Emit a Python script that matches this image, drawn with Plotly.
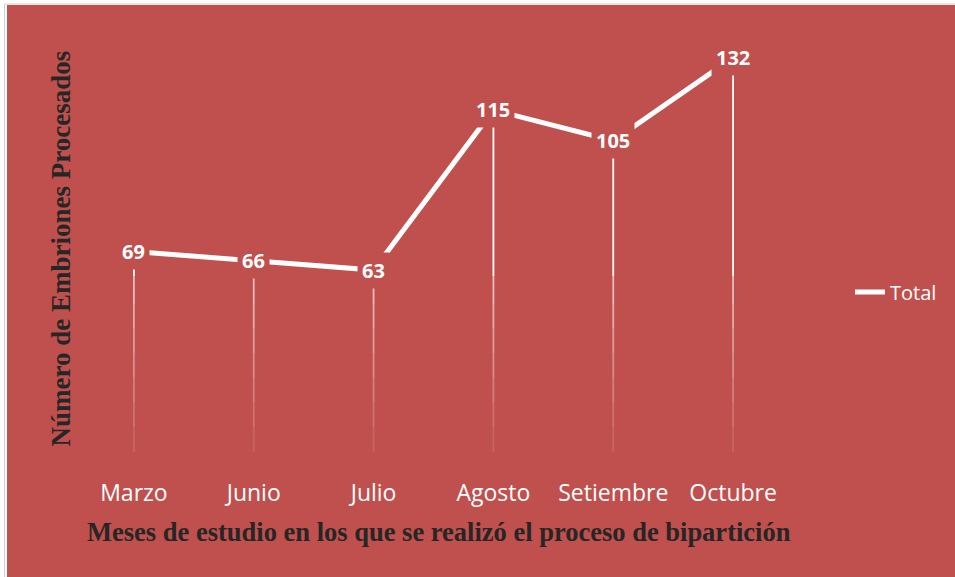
import plotly.graph_objects as go

months = ["Marzo", "Junio", "Julio", "Agosto", "Setiembre", "Octubre"]
totals = [69, 66, 63, 115, 105, 132]
series_name = "Total"
y_title = "Número de Embriones Procesados"
x_title = "Meses de estudio en los que se realizó el proceso de bipartición"

RED = "#C0504D"
DARK = "#262626"

# plot area geometry (figure px)
W, H = 955, 577
L, R, T, B = 74, 162, 33, 113
PW, PH = W - L - R, H - T - B


def px_x(p):
    return (p - L) / PW


def px_y(p):
    return (H - B - p) / PH


fig = go.Figure()

# drop lines: solid upper part, fading lower part
fade_breaks = [61, 52, 44, 36, 28, 20, 12, 4]
fade_alpha = [0.62, 0.52, 0.44, 0.36, 0.28, 0.2, 0.12]
xs, ys = [], []
for m, v in zip(months, totals):
    if v > fade_breaks[0]:
        xs += [m, m, None]
        ys += [v, fade_breaks[0], None]
fig.add_trace(go.Scatter(x=xs, y=ys, mode="lines", line=dict(color="white", width=1.8),
                         showlegend=False, hoverinfo="skip"))
for i, a in enumerate(fade_alpha):
    hi, lo = fade_breaks[i], fade_breaks[i + 1]
    xs, ys = [], []
    for m, v in zip(months, totals):
        xs += [m, m, None]
        ys += [min(v, hi), lo, None]
    fig.add_trace(go.Scatter(x=xs, y=ys, mode="lines",
                             line=dict(color=f"rgba(255,255,255,{a})", width=1.8),
                             showlegend=False, hoverinfo="skip"))

fig.add_trace(go.Scatter(x=months, y=totals, mode="lines", name=series_name,
                         line=dict(color="white", width=5)))

for m, v in zip(months, totals):
    fig.add_annotation(x=m, y=v, text=f"<b>{v}</b>", showarrow=False,
                       font=dict(family="Open Sans", size=20, color="white"),
                       bgcolor=RED, borderpad=4, xanchor="center", yanchor="middle")

fig.add_annotation(xref="paper", yref="paper", x=px_x(60), y=0.5,
                   text=f"<b>{y_title}</b>", textangle=-90,
                   showarrow=False, xanchor="center", yanchor="middle",
                   font=dict(family="Liberation Serif", size=27, color=DARK))
fig.add_annotation(xref="paper", yref="paper", x=px_x(439), y=px_y(532),
                   text=f"<b>{x_title}</b>", showarrow=False, xanchor="center", yanchor="middle",
                   font=dict(family="Liberation Serif", size=26.5, color=DARK))

# page border: white strip with thin grey rule at top and left
fig.add_shape(type="rect", xref="paper", yref="paper", x0=px_x(0), x1=px_x(W),
              y0=px_y(5), y1=px_y(0), fillcolor="white", line_width=0, layer="below")
fig.add_shape(type="rect", xref="paper", yref="paper", x0=px_x(0), x1=px_x(7),
              y0=px_y(H), y1=px_y(0), fillcolor="white", line_width=0, layer="below")
fig.add_shape(type="line", xref="paper", yref="paper", x0=px_x(4.5), x1=px_x(W),
              y0=px_y(4), y1=px_y(4), line=dict(color="#CFCFCF", width=1), layer="below")
fig.add_shape(type="line", xref="paper", yref="paper", x0=px_x(4.5), x1=px_x(4.5),
              y0=px_y(H), y1=px_y(4), line=dict(color="#CFCFCF", width=1), layer="below")

fig.update_layout(
    width=W, height=H,
    margin=dict(l=L, r=R, t=T, b=B),
    paper_bgcolor=RED, plot_bgcolor=RED,
    showlegend=True,
    legend=dict(x=px_x(850), y=px_y(292), xanchor="left", yanchor="middle",
                bgcolor="rgba(0,0,0,0)",
                font=dict(family="Open Sans", size=20, color="white")),
    xaxis=dict(type="category", range=[-0.5, 5.5], showgrid=False, zeroline=False,
               showline=False, ticks="", tickfont=dict(family="Open Sans", size=23, color="white"),
               ticklabelstandoff=13),
    yaxis=dict(range=[0, 140], showgrid=False, zeroline=False, showline=False,
               showticklabels=False, ticks=""),
)

fig.write_html("out.html", config={"displayModeBar": False},
               post_script="document.body.style.margin='0';document.body.style.overflow='hidden';"
                           "document.documentElement.style.background='" + RED + "';"
                           "document.body.style.background='" + RED + "';")
